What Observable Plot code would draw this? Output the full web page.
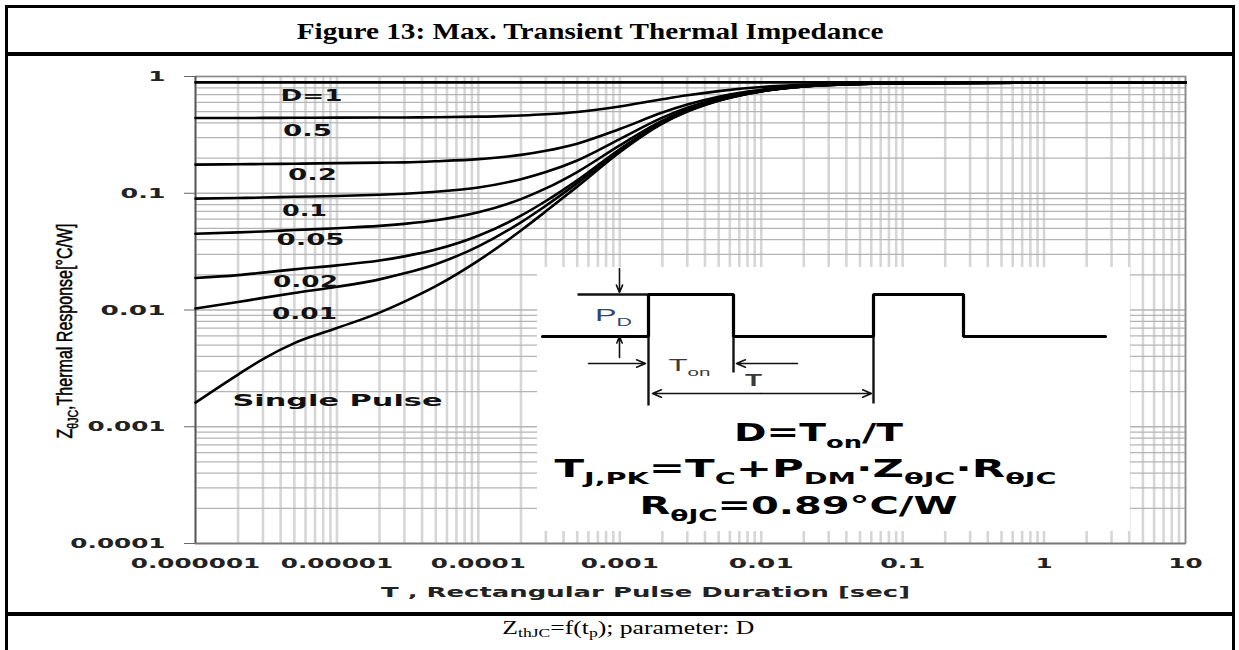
<!DOCTYPE html>
<html>
<head>
<meta charset="utf-8">
<script src="https://cdn.jsdelivr.net/npm/d3@7"></script>
<script src="https://cdn.jsdelivr.net/npm/@observablehq/plot@0.6"></script>
<style>
  body { margin: 0; background: #fff; }
  #page { position: relative; width: 1239px; height: 650px; overflow: hidden; background: #fff; }
  .outer { position: absolute; left: 5px; top: 5px; width: 1230px; height: 720px; border: 3px solid #000; box-sizing: border-box; }
  .sep { position: absolute; left: 5px; width: 1230px; height: 3.5px; background: #000; }
  #title { position: absolute; left: 0; width: 1180px; top: 18px; line-height: 32px; text-align: center; white-space: nowrap;
           font: bold 24px "Liberation Serif", "Times New Roman", serif; color: #000; }
  #caption { position: absolute; left: 0; width: 1256px; top: 617px; line-height: 26px; text-align: center; white-space: nowrap;
             font: 19px "Liberation Serif", "Times New Roman", serif; color: #000; }
  #caption sub { font-size: 13px; vertical-align: -3px; line-height: 0; }
  #title span, #caption span { display: inline-block; transform-origin: 50% 50%; }
  #chart { position: absolute; left: 0; top: 56px; }
  #inset { position: absolute; left: 537px; top: 267px; }
</style>
</head>
<body>
<div id="page">
  <div class="outer"></div>
  <div class="sep" style="top:52px"></div>
  <div class="sep" style="top:612px"></div>
  <div id="title"><span id="titleText">Figure 13: Max. Transient Thermal Impedance</span></div>
  <div id="chart"></div>
  <div id="inset"></div>
  <div id="caption"><span id="captionText">Z<sub>thJC</sub>=f(t<sub>p</sub>); parameter: D</span></div>
</div>
<script>
// ---------------- data ----------------
const tSec = [1e-6, 2e-6, 3e-6, 5e-6, 1e-5, 2e-5, 3e-5, 5e-5, 1e-4, 2e-4, 3e-4, 5e-4,
              1e-3, 2e-3, 3e-3, 5e-3, 1e-2, 2e-2, 5e-2, 0.1, 1, 10];
const seriesNames = ["D=1", "0.5", "0.2", "0.1", "0.05", "0.02", "0.01", "Single Pulse"];
const zD1     = [0.89, 0.89, 0.89, 0.89, 0.89, 0.89, 0.89, 0.89, 0.89, 0.89, 0.89, 0.89, 0.89, 0.89, 0.89, 0.89, 0.89, 0.89, 0.89, 0.89, 0.89, 0.89];
const zD05    = [0.441, 0.441, 0.442, 0.443, 0.444, 0.445, 0.446, 0.448, 0.453, 0.464, 0.475, 0.497, 0.553, 0.638, 0.690, 0.750, 0.813, 0.850, 0.871, 0.878, 0.886, 0.89];
const zD02    = [0.176, 0.177, 0.178, 0.179, 0.181, 0.183, 0.184, 0.188, 0.196, 0.213, 0.231, 0.266, 0.355, 0.491, 0.575, 0.671, 0.771, 0.831, 0.865, 0.877, 0.886, 0.89];
const zD01    = [0.0900, 0.0910, 0.0919, 0.0932, 0.0948, 0.0971, 0.0991, 0.103, 0.112, 0.132, 0.152, 0.191, 0.291, 0.444, 0.539, 0.647, 0.759, 0.827, 0.865, 0.877, 0.886, 0.89];
const zD005   = [0.0450, 0.0462, 0.0471, 0.0484, 0.0502, 0.0525, 0.0547, 0.0587, 0.0687, 0.0891, 0.110, 0.152, 0.257, 0.419, 0.519, 0.633, 0.751, 0.823, 0.863, 0.876, 0.885, 0.89];
const zD002   = [0.0188, 0.0199, 0.0209, 0.0223, 0.0241, 0.0265, 0.0288, 0.0329, 0.0432, 0.0642, 0.0858, 0.129, 0.238, 0.404, 0.507, 0.625, 0.747, 0.821, 0.862, 0.875, 0.885, 0.89];
const zD001   = [0.0103, 0.0117, 0.0127, 0.0140, 0.0158, 0.0183, 0.0206, 0.0247, 0.0351, 0.0564, 0.0782, 0.122, 0.232, 0.400, 0.504, 0.623, 0.746, 0.821, 0.862, 0.875, 0.885, 0.89];
const zSingle = [0.00161, 0.0028, 0.0038, 0.0052, 0.0070, 0.0095, 0.0118, 0.0160, 0.0265, 0.048, 0.070, 0.114, 0.225, 0.395, 0.50, 0.62, 0.745, 0.82, 0.862, 0.875, 0.885, 0.89];

const xTickValues = [1e-6, 1e-5, 1e-4, 1e-3, 1e-2, 0.1, 1, 10];
const xTickLabels = ["0.000001", "0.00001", "0.0001", "0.001", "0.01", "0.1", "1", "10"];
const yTickValues = [1e-4, 1e-3, 1e-2, 0.1, 1];
const yTickLabels = ["0.0001", "0.001", "0.01", "0.1", "1"];

const xTitle = "T , Rectangular Pulse Duration [sec]";
const yTitle = "Z_{θJC},Thermal Response[°C/W]";

// inset schematic (its own local units)
const pulseWave = [[5,69],[111,69],[111,27],[196,27],[196,69],[336,69],[336,27],[426,27],[426,69],[568,69]];
const pulseGuides = [
  {x1: 40, y1: 27, x2: 111, y2: 27},
  {x1: 111, y1: 69, x2: 111, y2: 138},
  {x1: 196, y1: 69, x2: 196, y2: 105},
  {x1: 336, y1: 69, x2: 336, y2: 136}
];
const pulseArrows = [
  {x1: 82, y1: 1, x2: 82, y2: 25},
  {x1: 82, y1: 90, x2: 82, y2: 69},
  {x1: 51, y1: 96, x2: 108, y2: 96},
  {x1: 260, y1: 96, x2: 199, y2: 96},
  {x1: 224, y1: 126, x2: 115, y2: 126},
  {x1: 224, y1: 126, x2: 334, y2: 126}
];
const insetNotes = [
  {text: "P_{D}", x: 76, y: 48, size: 17, weight: "normal", fill: "#34466b", family: "Liberation Sans, Arial, sans-serif", len: 37},
  {text: "T_{on}", x: 152, y: 98, size: 17, weight: "normal", fill: "#3a3a3a", family: "Liberation Sans, Arial, sans-serif", len: 42},
  {text: "T", x: 216, y: 113, size: 17, weight: "bold", fill: "#3a3a3a", family: "Liberation Sans, Arial, sans-serif", len: 17},
  {text: "D=T_{on}/T", x: 281, y: 166, size: 24, weight: "bold", fill: "#000", family: "DejaVu Sans, sans-serif", len: 169},
  {text: "T_{J,PK}=T_{C}+P_{DM}·Z_{θJC}·R_{θJC}", x: 268, y: 201, size: 25, weight: "bold", fill: "#000", family: "DejaVu Sans, sans-serif", len: 502},
  {text: "R_{θJC}=0.89°C/W", x: 261, y: 238, size: 25, weight: "bold", fill: "#000", family: "DejaVu Sans, sans-serif", len: 318}
];

// ---------------- build table ----------------
const seriesValues = [zD1, zD05, zD02, zD01, zD005, zD002, zD001, zSingle];
const rows = [];
seriesNames.forEach((name, s) => tSec.forEach((t, i) => rows.push({series: name, t, z: seriesValues[s][i]})));
const firstPoints = seriesNames.map((name, s) => ({series: name, t: tSec[0], z: seriesValues[s][0]}));

// log grid lines
const xGrid = [], yGrid = [];
for (let e = -6; e <= 0; e++) for (let k = 1; k <= 9; k++) xGrid.push(k * Math.pow(10, e));
xGrid.push(10);
for (let e = -4; e <= -1; e++) for (let k = 1; k <= 9; k++) yGrid.push(k * Math.pow(10, e));
yGrid.push(1);

// label styling (offsets from each curve's first point, px)
const labelStyle = {
  "D=1": {dx: 116, dy: 13, len: 62},
  "0.5": {dx: 112, dy: 13, len: 49},
  "0.2": {dx: 117, dy: 10, len: 49},
  "0.1": {dx: 109, dy: 12, len: 45},
  "0.05": {dx: 115, dy: 6, len: 68},
  "0.02": {dx: 110, dy: 4, len: 65},
  "0.01": {dx: 109, dy: 5, len: 65},
  "Single Pulse": {dx: 37, dy: -2, len: 210, anchor: "start"}
};

const xLabelMap = new Map(xTickValues.map((v, i) => [v, xTickLabels[i]]));
const yLabelMap = new Map(yTickValues.map((v, i) => [v, yTickLabels[i]]));

const labelMarks = firstPoints.map(p => {
  const st = labelStyle[p.series];
  return Plot.text([p], {x: "t", y: "z", text: "series", dx: st.dx, dy: st.dy,
    textAnchor: st.anchor || "middle", fontSize: 16, fontWeight: "bold", fill: "#111",
    fontFamily: "DejaVu Sans, sans-serif"});
});

const chart = Plot.plot({
  width: 1239, height: 556,
  marginLeft: 195, marginRight: 54, marginTop: 20, marginBottom: 69,
  style: {background: "transparent", fontFamily: "DejaVu Sans, sans-serif"},
  x: {type: "log", domain: [1e-6, 10]},
  y: {type: "log", domain: [1e-4, 1]},
  marks: [
    Plot.ruleX(xGrid, {stroke: "#d6d6d6", strokeWidth: 2.6}),
    Plot.ruleY(yGrid, {stroke: "#b4b4b4", strokeWidth: 1.3}),
    Plot.frame({stroke: "#8a8a8a", strokeWidth: 1.5}),
    Plot.ruleX([1e-6], {stroke: "#555", strokeWidth: 1.6}),
    Plot.ruleY([1e-4], {stroke: "#777", strokeWidth: 1.4}),
    Plot.axisY(yTickValues, {tickSize: 11, tickPadding: 19, stroke: "#666", fill: "#222",
      tickFormat: d => yLabelMap.get(d), fontSize: 14.5, fontWeight: "bold", label: null}),
    Plot.axisX(xTickValues, {tickSize: 0, tickPadding: 14, fill: "#222",
      tickFormat: d => xLabelMap.get(d), fontSize: 14.5, fontWeight: "bold", label: null}),
    Plot.line(rows, {x: "t", y: "z", z: "series", stroke: "#000", strokeWidth: 2.6, curve: "monotone-x"}),
    ...labelMarks,
    Plot.text([xTitle], {text: d => d, frameAnchor: "bottom", dx: -45, dy: 49, fontSize: 14.5,
      fontWeight: "bold", fill: "#222", lineAnchor: "middle"}),
    Plot.text([yTitle], {text: d => d, frameAnchor: "left", textAnchor: "middle", rotate: -90, dx: -131, dy: 21,
      fontSize: 22, fill: "#000", stroke: "#000", strokeWidth: 0.5,
      fontFamily: "Liberation Sans, Arial, sans-serif", lineAnchor: "middle"})
  ]
});
document.getElementById("chart").appendChild(chart);

const inset = Plot.plot({
  width: 593, height: 264, margin: 0,
  style: {background: "#fff", overflow: "visible"},
  x: {domain: [0, 593], axis: null},
  y: {domain: [0, 264], range: [0, 264], axis: null},
  marks: [
    Plot.link(pulseGuides, {x1: "x1", y1: "y1", x2: "x2", y2: "y2", stroke: "#111", strokeWidth: 2.4}),
    Plot.line(pulseWave, {stroke: "#000", strokeWidth: 3.2, strokeLinejoin: "miter"}),
    Plot.arrow(pulseArrows, {x1: "x1", y1: "y1", x2: "x2", y2: "y2", stroke: "#111", strokeWidth: 1.6,
      headLength: 9, headAngle: 45}),
    ...insetNotes.map(n => Plot.text([n], {x: "x", y: "y", text: "text", fontSize: n.size,
      fontWeight: n.weight, fill: n.fill, fontFamily: n.family}))
  ]
});
document.getElementById("inset").appendChild(inset);

// ---------------- text post-processing ----------------
const svgNS = "http://www.w3.org/2000/svg";
function richify(el, markup) {
  const fs = parseFloat(getComputedStyle(el).fontSize) || 16;
  while (el.firstChild) el.removeChild(el.firstChild);
  const re = /_\{([^}]*)\}/g;
  let last = 0, m; const parts = [];
  while ((m = re.exec(markup))) {
    if (m.index > last) parts.push([markup.slice(last, m.index), false]);
    parts.push([m[1], true]);
    last = re.lastIndex;
  }
  if (last < markup.length) parts.push([markup.slice(last), false]);
  let inSub = false;
  for (const [s, sub] of parts) {
    const ts = document.createElementNS(svgNS, "tspan");
    ts.textContent = s;
    if (sub) {
      ts.setAttribute("font-size", (fs * 0.66).toFixed(1));
      if (!inSub) ts.setAttribute("dy", (fs * 0.3).toFixed(1));
    } else if (inSub) ts.setAttribute("dy", (-fs * 0.3).toFixed(1));
    inSub = sub;
    el.appendChild(ts);
  }
}
function fitLen(el, target) {
  el.setAttribute("textLength", target);
  el.setAttribute("lengthAdjust", "spacingAndGlyphs");
}
const fitMap = new Map();
Object.entries(labelStyle).forEach(([k, v]) => fitMap.set(k, v.len));
fitMap.set(xTitle, 529);
fitMap.set(yTitle, 215);
insetNotes.forEach(n => fitMap.set(n.text, n.len));

for (const svg of [chart, inset]) {
  svg.querySelectorAll("text").forEach(el => {
    const key = el.textContent;
    const g = el.closest("g");
    const aria = g ? (g.getAttribute("aria-label") || "") : "";
    if (fitMap.has(key)) {
      if (key.includes("_{")) richify(el, key);
      fitLen(el, fitMap.get(key));
    } else if (aria.includes("tick label")) {
      fitLen(el, el.getComputedTextLength() * 1.7);
    }
  });
}

function fitHtml(id, target) {
  const el = document.getElementById(id);
  const w = el.getBoundingClientRect().width;
  el.style.transform = `scaleX(${(target / w).toFixed(3)})`;
}
fitHtml("titleText", 587);
fitHtml("captionText", 252);
</script>
</body>
</html>
